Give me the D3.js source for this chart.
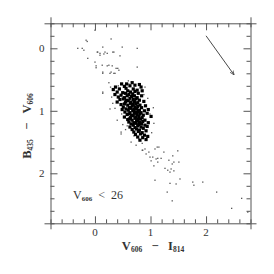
<!DOCTYPE html>
<html lang="en">
<head>
<meta charset="UTF-8">
<title>CMD</title>
<style>
  body { margin: 0; background: #fff; }
  text { font-family: "Liberation Serif", "DejaVu Serif", serif; fill: #333; white-space: pre; }
</style>
</head>
<body>
<script src="https://d3js.org/d3.v7.min.js"></script>
<script>
// main clump of stars (big symbols), [V606-I814, B435-V606]
var bigStars = [
  [0.57,0.57],[0.67,0.55],[0.80,0.58],[0.48,0.57],
  [0.37,0.62],[0.53,0.61],[0.63,0.60],[0.72,0.59],[0.83,0.62],
  [0.33,0.66],[0.44,0.65],[0.56,0.64],[0.69,0.65],[0.76,0.67],
  [0.40,0.70],[0.50,0.71],[0.59,0.68],[0.64,0.70],[0.72,0.69],[0.85,0.68],
  [0.36,0.74],[0.47,0.75],[0.55,0.72],[0.61,0.74],[0.68,0.73],[0.78,0.72],
  [0.42,0.78],[0.53,0.79],[0.58,0.76],[0.66,0.77],[0.71,0.76],[0.76,0.79],[0.84,0.76],
  [0.45,0.82],[0.51,0.81],[0.57,0.83],[0.63,0.80],[0.69,0.82],[0.74,0.81],[0.80,0.83],
  [0.40,0.86],[0.55,0.86],[0.60,0.84],[0.65,0.86],[0.71,0.85],[0.77,0.87],[0.88,0.85],
  [0.47,0.90],[0.53,0.89],[0.59,0.91],[0.64,0.88],[0.69,0.90],[0.74,0.89],[0.81,0.91],
  [0.51,0.94],[0.62,0.95],[0.67,0.92],[0.72,0.94],[0.77,0.93],[0.84,0.95],[0.91,0.92],
  [0.49,0.98],[0.56,0.97],[0.60,0.99],[0.65,0.96],[0.70,0.98],[0.75,0.97],[0.80,0.99],[0.96,0.98],
  [0.54,1.02],[0.63,1.03],[0.68,1.00],[0.73,1.02],[0.78,1.01],[0.83,1.03],[0.89,1.00],
  [0.58,1.06],[0.61,1.05],[0.66,1.07],[0.71,1.04],[0.76,1.06],[0.81,1.05],[0.87,1.07],[0.94,1.04],
  [0.53,1.10],[0.64,1.11],[0.69,1.08],[0.74,1.10],[0.79,1.09],[0.85,1.11],[1.01,1.09],
  [0.59,1.14],[0.62,1.13],[0.67,1.15],[0.72,1.12],[0.77,1.14],[0.82,1.13],[0.90,1.15],
  [0.61,1.18],[0.70,1.19],[0.75,1.16],[0.80,1.18],[0.86,1.17],[0.96,1.19],
  [0.65,1.21],[0.69,1.23],[0.74,1.20],[0.79,1.22],[0.84,1.21],[0.90,1.23],
  [0.63,1.26],[0.72,1.27],[0.77,1.24],[0.83,1.26],[0.94,1.25],
  [0.67,1.30],[0.75,1.29],[0.80,1.31],[0.87,1.28],
  [0.70,1.34],[0.78,1.33],[0.85,1.35],[0.92,1.32],
  [0.73,1.38],[0.82,1.37],[0.89,1.39],
  [0.77,1.42],[0.86,1.43],[0.95,1.41],
  [0.81,1.47],[0.92,1.46]
];

// fainter stars (small dots)
var smallStars = [
  [-0.16,-0.13],[-0.31,0.00],[-0.23,0.00],[0.04,0.06],[0.09,0.08],[0.16,0.09],[0.22,0.08],
  [-0.13,0.16],[0.00,0.22],[0.13,0.27],[0.22,0.28],[0.43,0.35],[0.14,0.38],[0.27,0.40],
  [0.38,0.32],[0.29,-0.15],[0.49,-0.02],[0.34,0.06],[0.76,0.30],[0.76,0.00],[0.00,-0.29],
  [-0.14,-0.11],[0.14,-0.02],[0.18,0.06],[0.05,0.06],[0.09,0.11],[0.32,0.06],[0.45,0.12],
  [0.02,0.28],[0.25,0.27],[0.31,0.28],[0.41,0.32],[0.36,0.40],[-0.20,0.03],[0.02,0.31],
  [0.14,0.70],[0.32,0.88],[0.36,0.96],[0.27,0.97],[0.14,0.72],[0.54,0.59],[0.61,0.57],
  [0.14,0.40],[0.29,0.38],[0.34,0.40],[0.40,1.15],[0.47,1.34],[0.65,1.50],[0.81,1.47],
  [0.47,1.37],[0.74,1.55],[0.85,1.52],[0.86,1.63],[1.12,1.58],[1.04,1.74],[1.13,1.76],
  [0.79,1.45],[0.85,1.63],[0.90,1.61],[0.97,1.66],[0.92,1.69],[1.08,1.61],[1.15,1.58],
  [1.24,1.66],[0.99,1.74],[1.01,1.80],[1.10,1.77],[1.06,1.88],[1.13,1.82],[1.19,1.76],
  [1.33,1.79],[1.40,1.72],[1.49,1.64],[1.42,1.82],[1.51,1.82],[1.39,1.85],[1.26,1.92],
  [1.31,1.95],[1.35,1.98],[1.42,1.96],[1.37,1.93],[1.08,2.11],[1.35,2.16],[1.46,2.17],
  [1.53,2.09],[1.30,2.30],[1.39,2.44],[1.76,2.14],[1.78,2.19],[1.94,2.14],[2.19,2.30],
  [2.64,2.40],[2.46,2.56],[2.75,2.62],[0.28,0.62],[0.30,0.78],[0.90,0.62],[0.95,0.80],
  [1.05,0.95],[1.06,1.20],[1.02,1.35],[0.55,1.30],[0.50,1.22],[0.25,0.55],
  [0.42,0.60],[0.60,0.52],[0.88,0.74],[0.99,1.05],[0.48,1.05],[0.58,1.24],[0.70,1.40]
];

var xTicks = [0, 1, 2];
var yTicks = [0, 1, 2];
var arrow = { x: [2.0, 2.5], y: [-0.2, 0.42] };

var W = 274, H = 274;
var mLeft = 50.5, mTop = 23.3, size = 200;

var svg = d3.select('body').append('svg').attr('width', W).attr('height', H);

var x = d3.scaleLinear().domain([-0.8, 2.8]).range([mLeft, mLeft + size]);
var y = d3.scaleLinear().domain([-0.4, 2.8]).range([mTop, mTop + size]);

// points
svg.append('g').selectAll('rect')
  .data(smallStars).enter().append('rect')
  .attr('x', function (d) { return x(d[0]) - 0.6; })
  .attr('y', function (d) { return y(d[1]) - 0.6; })
  .attr('width', 1.3).attr('height', 1.3)
  .attr('fill', '#555');

svg.append('g').selectAll('rect')
  .data(bigStars).enter().append('rect')
  .attr('x', function (d) { return x(d[0]) - 1.6; })
  .attr('y', function (d) { return y(d[1]) - 1.6; })
  .attr('width', 3.2).attr('height', 3.2)
  .attr('fill', '#000');

// frame with inward ticks on all sides
var minorX = d3.range(-0.8, 2.81, 0.2), minorY = d3.range(-0.4, 2.81, 0.2);
function isMajor(v) { return Math.abs(v - Math.round(v)) < 1e-6; }

var axisCol = '#555';
var axes = [
  d3.axisBottom(x).tickValues(minorX).tickFormat(''),
  d3.axisTop(x).tickValues(minorX).tickFormat(''),
  d3.axisLeft(y).tickValues(minorY).tickFormat(''),
  d3.axisRight(y).tickValues(minorY).tickFormat('')
];
var tr = ['translate(0,' + (mTop + size) + ')', 'translate(0,' + mTop + ')',
          'translate(' + mLeft + ',0)', 'translate(' + (mLeft + size) + ',0)'];
var sign = [-1, 1, 1, -1];
axes.forEach(function (a, i) {
  var g = svg.append('g').attr('transform', tr[i]).call(a);
  g.select('.domain').attr('stroke', axisCol);
  g.selectAll('.tick text').remove();
  g.selectAll('.tick line').attr('stroke', axisCol)
    .attr(i < 2 ? 'y2' : 'x2', function (d) { return sign[i] * (isMajor(d) ? 7 : 4); });
});

// tick labels
svg.append('g').selectAll('text').data(xTicks).enter().append('text')
  .attr('x', function (d) { return x(d); }).attr('y', mTop + size + 13)
  .attr('text-anchor', 'middle').style('font-size', '11px')
  .text(function (d) { return d; });
svg.append('g').selectAll('text').data(yTicks).enter().append('text')
  .attr('x', mLeft - 6).attr('y', function (d) { return y(d) + 4; })
  .attr('text-anchor', 'end').style('font-size', '11px')
  .text(function (d) { return d; });

// axis titles
function title(sel, parts) {
  parts.forEach(function (p) {
    sel.append('tspan').text(p[0])
      .style('font-size', p[1] ? '7.5px' : '12.5px')
      .attr('dy', p[1] ? 2 : (p[2] || 0));
  });
}
var xt = svg.append('text').attr('x', 153).attr('y', 249.5).attr('text-anchor', 'middle')
  .style('font-weight', 'bold');
title(xt, [['V'], ['606', 1], ['   \u2212   I', 0, -2], ['814', 1]]);

var yt = svg.append('text').attr('transform', 'translate(31,126) rotate(-90)')
  .attr('text-anchor', 'middle').style('font-weight', 'bold');
title(yt, [['B'], ['435', 1], ['   \u2212   V', 0, -2], ['606', 1]]);

var lt = svg.append('text').attr('x', 73).attr('y', 199);
lt.append('tspan').text('V').style('font-size', '12px');
lt.append('tspan').text('606').style('font-size', '7px').style('font-weight', 'bold').attr('dy', 2);
lt.append('tspan').text('  <  26').style('font-size', '12px').attr('dy', -2);

// reddening arrow
svg.append('defs').append('marker').attr('id', 'ah')
  .attr('viewBox', '0 0 10 10').attr('refX', 9).attr('refY', 5)
  .attr('markerWidth', 5).attr('markerHeight', 5).attr('orient', 'auto')
  .append('path').attr('d', 'M0,1L10,5L0,9').attr('fill', 'none').attr('stroke', '#333').attr('stroke-width', 1.5);
svg.append('line')
  .attr('x1', x(arrow.x[0])).attr('y1', y(arrow.y[0]))
  .attr('x2', x(arrow.x[1])).attr('y2', y(arrow.y[1]))
  .attr('stroke', '#333').attr('stroke-width', 0.9)
  .attr('marker-end', 'url(#ah)');
</script>
</body>
</html>
